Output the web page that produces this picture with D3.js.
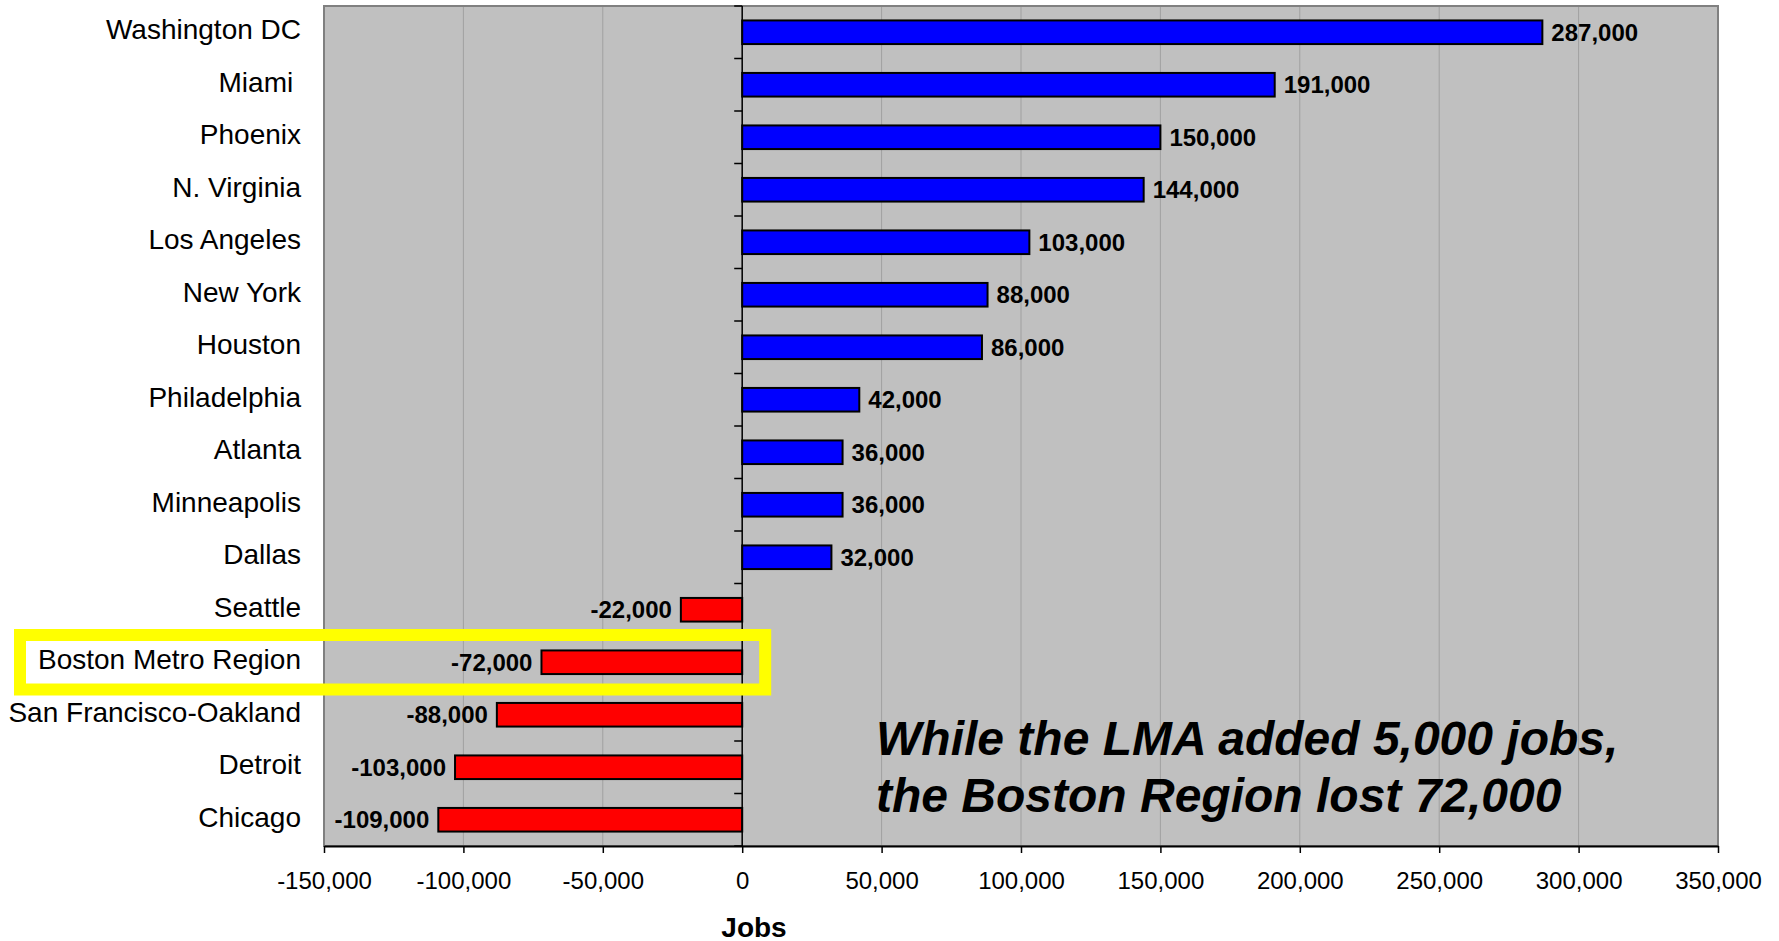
<!DOCTYPE html>
<html>
  <head>
    <script src="https://d3js.org/d3.v7.min.js"></script>
    <style>
      body { margin: 0; background: #fff; }
      text { font-family: "Liberation Sans", Arial, sans-serif; }
    </style>
  </head>
  <body>
    <svg id="jobsvis" width="1779" height="941"></svg>

  <script>
  // data
  var cities = ["Washington DC", "Miami ", "Phoenix", "N. Virginia", "Los Angeles", "New York",
    "Houston", "Philadelphia", "Atlanta", "Minneapolis", "Dallas", "Seattle",
    "Boston Metro Region", "San Francisco-Oakland", "Detroit", "Chicago"];
  var jobs = [287000, 191000, 150000, 144000, 103000, 88000, 86000, 42000, 36000, 36000, 32000,
    -22000, -72000, -88000, -103000, -109000];
  var xTicks = [-150000, -100000, -50000, 0, 50000, 100000, 150000, 200000, 250000, 300000, 350000];
  var highlight = "Boston Metro Region";
  var note = ["While the LMA added 5,000 jobs,", "the Boston Region lost 72,000"];

  var rows = cities.map(function(c, i) { return {city: c, value: jobs[i]}; });

  var svg = d3.select("#jobsvis");

  // plot box (window.top is taken, so plot* names)
  var plotL = 324, plotR = 1718, plotT = 6, plotB = 846;

  var x = d3.scaleLinear()
    .domain([-150000, 350000])
    .range([plotL, plotR]);

  // bars centred in equal slots, like the excel category axis
  var y = d3.scaleBand()
    .domain(cities)
    .range([plotT, plotB])
    .paddingInner(0.55)
    .paddingOuter(0.275);

  var fmt = d3.formatLocale({decimal: ".", thousands: ",", grouping: [3], currency: ["$", ""], minus: "-"}).format(",");

  // gray background
  svg.append("rect")
    .attr("x", plotL).attr("y", plotT)
    .attr("width", plotR - plotL).attr("height", plotB - plotT)
    .attr("fill", "#c0c0c0");

  // vertical gridlines
  svg.append("g")
    .selectAll("line")
    .data(xTicks)
    .enter().append("line")
      .attr("x1", function(d) { return x(d); })
      .attr("x2", function(d) { return x(d); })
      .attr("y1", plotT).attr("y2", plotB)
      .attr("stroke", "#a0a0a0")
      .attr("stroke-width", 1);

  // plot border
  svg.append("rect")
    .attr("x", plotL).attr("y", plotT)
    .attr("width", plotR - plotL).attr("height", plotB - plotT)
    .attr("fill", "none")
    .attr("stroke", "#808080")
    .attr("stroke-width", 2);

  // bars
  svg.append("g")
    .selectAll("rect")
    .data(rows)
    .enter().append("rect")
      .attr("x", function(d) { return x(Math.min(0, d.value)); })
      .attr("y", function(d) { return y(d.city); })
      .attr("width", function(d) { return Math.abs(x(d.value) - x(0)); })
      .attr("height", y.bandwidth())
      .attr("fill", function(d) { return d.value >= 0 ? "#0000ff" : "#ff0000"; })
      .attr("stroke", "#000")
      .attr("stroke-width", 2);

  // zero axis with ticks on slot boundaries
  var step = y.step();
  var bounds = d3.range(cities.length + 1).map(function(i) { return plotT + i * step; });
  var zero = svg.append("g");
  zero.append("line")
    .attr("x1", x(0)).attr("x2", x(0))
    .attr("y1", plotT).attr("y2", plotB)
    .attr("stroke", "#000").attr("stroke-width", 1.5);
  zero.selectAll(".tk")
    .data(bounds)
    .enter().append("line")
      .attr("class", "tk")
      .attr("x1", x(0) - 8).attr("x2", x(0))
      .attr("y1", function(d) { return d; })
      .attr("y2", function(d) { return d; })
      .attr("stroke", "#000").attr("stroke-width", 1.5);

  // bottom axis
  var xAxis = svg.append("g")
    .attr("transform", "translate(0," + plotB + ")")
    .call(d3.axisBottom(x).tickValues(xTicks).tickFormat(fmt).tickSize(7).tickSizeOuter(0));
  xAxis.select(".domain").attr("stroke", "#000").attr("stroke-width", 2);
  xAxis.selectAll(".tick line").attr("stroke", "#000").attr("stroke-width", 1.5);
  xAxis.selectAll(".tick text")
    .attr("y", 0).attr("dy", "43px")
    .style("font-family", "'Liberation Sans', Arial, sans-serif")
    .style("font-size", "24px")
    .attr("fill", "#000");

  // category labels
  svg.append("g")
    .selectAll("text")
    .data(rows)
    .enter().append("text")
      .attr("x", 301)
      .attr("y", function(d) { return y(d.city) + y.bandwidth() / 2 + 7; })
      .attr("text-anchor", "end")
      .style("white-space", "pre")
      .style("font-size", "28px")
      .attr("fill", "#000")
      .text(function(d) { return d.city; });

  // value labels
  svg.append("g")
    .selectAll("text")
    .data(rows)
    .enter().append("text")
      .attr("x", function(d) { return d.value >= 0 ? x(d.value) + 9 : x(d.value) - 9; })
      .attr("y", function(d) { return y(d.city) + y.bandwidth() / 2 + 8.5; })
      .attr("text-anchor", function(d) { return d.value >= 0 ? "start" : "end"; })
      .style("font-size", "24px")
      .style("font-weight", "bold")
      .attr("fill", "#000")
      .text(function(d) { return fmt(d.value); });

  // yellow highlight round Boston
  var hb = plotT + cities.indexOf(highlight) * step;
  svg.append("rect")
    .attr("x", 20)
    .attr("y", hb - 1)
    .attr("width", x(0) + 23 - 20)
    .attr("height", step + 2)
    .attr("fill", "none")
    .attr("stroke", "#ffff00")
    .attr("stroke-width", 12);

  // annotation
  svg.append("g")
    .selectAll("text")
    .data(note)
    .enter().append("text")
      .attr("x", 876)
      .attr("y", function(d, i) { return 755 + i * 57; })
      .style("font-size", "48px")
      .style("font-weight", "bold")
      .style("font-style", "italic")
      .attr("fill", "#000")
      .text(function(d) { return d; });

  // axis title
  svg.append("text")
    .attr("x", 754)
    .attr("y", 937)
    .attr("text-anchor", "middle")
    .style("font-size", "28px")
    .style("font-weight", "bold")
    .attr("fill", "#000")
    .text("Jobs");
  </script>
  </body>
</html>
